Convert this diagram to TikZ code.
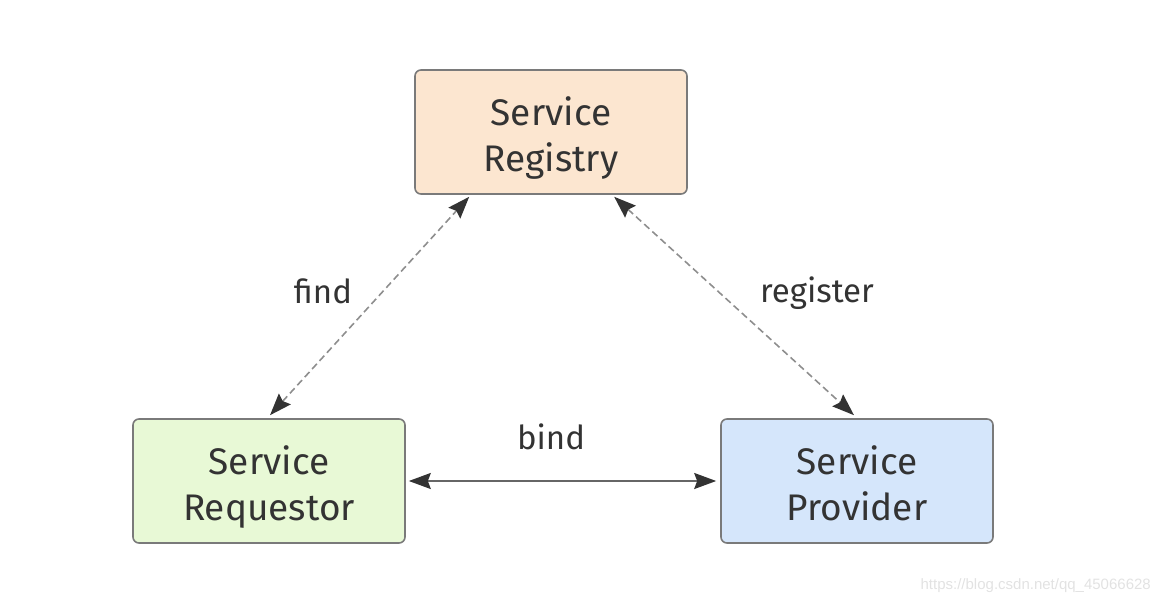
\documentclass[tikz,border=0pt]{standalone}
\usepackage{fontspec}
\setmainfont{Fira Sans}
\setsansfont{Liberation Sans}
\usetikzlibrary{arrows.meta}
\definecolor{boxline}{HTML}{7A7A7A}
\definecolor{regfill}{HTML}{FCE6D0}
\definecolor{reqfill}{HTML}{E8F9D6}
\definecolor{provfill}{HTML}{D5E6FB}
\definecolor{txt}{HTML}{333333}
\definecolor{dashcol}{HTML}{8E8E8E}
\definecolor{headcol}{HTML}{333333}
\definecolor{solidcol}{HTML}{666666}
\definecolor{wm}{HTML}{E2E2E2}
\newcommand{\toprule}{\rule{0pt}{46pt}}
\tikzset{
  svtip/.tip={Stealth[length=22pt,width=16pt,inset=3pt,color=headcol]},
  svcbox/.style={draw=boxline, line width=1.6pt, rounded corners=6pt,
    minimum width=272pt, minimum height=124pt, align=center,
    text=txt, font=\fontsize{37}{46}\selectfont, inner sep=0pt},
  dasharrow/.style={draw=dashcol, line width=1.6pt, dash pattern=on 7pt off 4pt,
    svtip-svtip},
  solidarrow/.style={draw=solidcol, line width=2pt, svtip-svtip},
  lbl/.style={text=txt, font=\fontsize{33}{38}\selectfont, inner sep=0pt, anchor=base}
}
\begin{document}
\begin{tikzpicture}[x=1pt,y=-1pt]
\useasboundingbox (0,0) rectangle (1160,604);
\node[svcbox, fill=regfill] (reg) at (551,132) {\toprule Service\\Registry\strut};
\node[svcbox, fill=reqfill] (req) at (269,481) {\toprule Service\\Requestor\strut};
\node[svcbox, fill=provfill] (prov) at (857,481) {\toprule Service\\Provider\strut};
\coordinate (fa) at ([xshift=55pt,yshift=-2pt]reg.south west);
\coordinate (ra) at ([xshift=200pt,yshift=-2pt]reg.south west);
\coordinate (fb) at ([xshift=1pt,yshift=3pt]req.north);
\coordinate (rb) at ([xshift=-3pt,yshift=3pt]prov.north);
\draw[dasharrow] (fb) -- (fa);
\draw[dasharrow] (ra) -- (rb);
\draw[solidarrow] ([xshift=3pt]req.east) -- ([xshift=-4pt]prov.west);
\node[lbl] (lfind) at (323,303) {find};
\node[lbl] (lreg) at (817,302) {register};
\node[lbl] (lbind) at (551,449) {bind};
\node[text=wm, font=\sffamily\fontsize{15}{18}\selectfont, anchor=east, inner sep=0pt] (wmk) at (1151,586) {https://blog.csdn.net/qq\_45066628};
\end{tikzpicture}
\end{document}
